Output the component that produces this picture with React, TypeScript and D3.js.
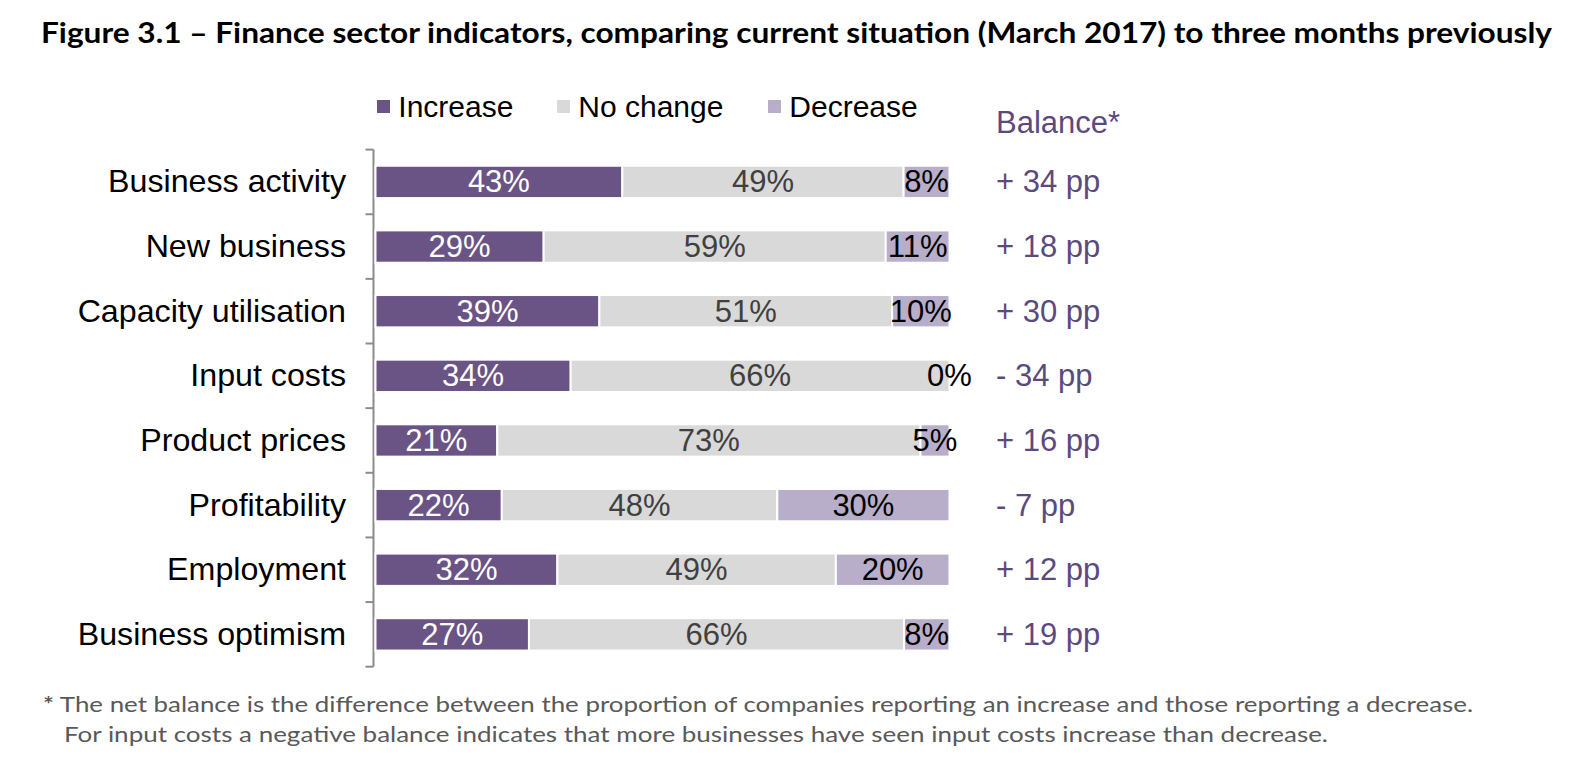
import React from "react";
import * as d3 from "d3";

const categories = [
  "Business activity",
  "New business",
  "Capacity utilisation",
  "Input costs",
  "Product prices",
  "Profitability",
  "Employment",
  "Business optimism",
];
const increase = [43, 29, 39, 34, 21, 22, 32, 27];
const noChange = [49, 59, 51, 66, 73, 48, 49, 66];
const decrease = [8, 11, 10, 0, 5, 30, 20, 8];
const balances = ["+ 34 pp", "+ 18 pp", "+ 30 pp", "- 34 pp", "+ 16 pp", "- 7 pp", "+ 12 pp", "+ 19 pp"];
const seriesNames = ["Increase", "No change", "Decrease"];
const seriesColors = ["#6a5485", "#d9d9d9", "#b9aeca"];
const labelColors = ["#ffffff", "#404040", "#000000"];

const title = "Figure 3.1 \u2013 Finance sector indicators, comparing current situation (March 2017) to three months previously";
const note1 = " The net balance is the difference between the proportion of companies reporting an increase and those reporting a decrease.";
const note2 = "For input costs a negative balance indicates that more businesses have seen input costs increase than decrease.";

const W = 1596;
const H = 764;
const FONT = "'Liberation Sans', Arial, sans-serif";
const CAL = "Lato, 'Open Sans', sans-serif";

export default function App() {
  const y = d3.scaleBand<string>().domain(categories).range([149.6, 666.7]).paddingInner(0.5).paddingOuter(0.25);
  const x = d3.scaleLinear().domain([0, 100]).range([375.5, 949.5]);
  const step = y.step();
  const axisX = 373.5;
  const tickYs = d3.range(categories.length + 1).map((i) => 149.6 + i * step);

  const rows = categories.map((c, i) => {
    const vals = [increase[i], noChange[i], decrease[i]];
    const total = d3.sum(vals);
    let cum = 0;
    const segs = vals.map((v, k) => {
      const x0 = x((cum / total) * 100);
      cum += v;
      const x1 = x((cum / total) * 100);
      return { v, k, x0, x1 };
    });
    return { c, i, segs };
  });

  const legendX = [377, 557, 768];

  return (
    <svg width={W} height={H} style={{ position: "absolute", left: 0, top: 0, background: "#fff" }}>
      <text x={41} y={42.5} fontFamily={CAL} fontWeight="bold" fontSize={29} fill="#000" textLength={1511} lengthAdjust="spacingAndGlyphs">
        {title}
      </text>

      {seriesNames.map((s, k) => (
        <g key={s}>
          <rect x={legendX[k]} y={100} width={13} height={13} fill={seriesColors[k]} />
          <text x={legendX[k] + 21.3} y={116.5} fontFamily={FONT} fontSize={30} fill="#000">
            {s}
          </text>
        </g>
      ))}
      <text x={996} y={132.5} fontFamily={FONT} fontSize={31} fill="#5c4a7e">
        Balance*
      </text>

      <line x1={axisX} x2={axisX} y1={tickYs[0]} y2={tickYs[tickYs.length - 1]} stroke="#8c8c8c" strokeWidth={2} />
      {tickYs.map((ty, i) => (
        <line key={i} x1={axisX - 8} x2={axisX} y1={ty} y2={ty} stroke="#8c8c8c" strokeWidth={2} />
      ))}

      {rows.map((r) => {
        const by = y(r.c)!;
        const bh = y.bandwidth();
        const cy = by + bh / 2;
        const base = cy + 10.5;
        return (
          <g key={r.c}>
            <text x={346} y={base} textAnchor="end" fontFamily={FONT} fontSize={32.2} fill="#000">
              {r.c}
            </text>
            {r.segs.map((s) => (
              <rect key={s.k} x={s.x0} y={by} width={Math.max(0, s.x1 - s.x0)} height={bh} fill={seriesColors[s.k]} stroke="#ffffff" strokeWidth={s.v > 0 ? 2 : 0} />
            ))}
            {r.segs.map((s) => (
              <text key={"t" + s.k} x={(s.x0 + s.x1) / 2} y={base} textAnchor="middle" fontFamily={FONT} fontSize={31} fill={labelColors[s.k]}>
                {s.v + "%"}
              </text>
            ))}
            <text x={996} y={base} fontFamily={FONT} fontSize={31} fill="#5c4a7e">
              {balances[r.i]}
            </text>
          </g>
        );
      })}

      <text x={43} y={711.5} fontFamily={CAL} fontSize={21.5} fill="#595959" textLength={1430} lengthAdjust="spacingAndGlyphs">
        <tspan fontWeight="bold">*</tspan>
        {note1}
      </text>
      <text x={64} y={741.5} fontFamily={CAL} fontSize={21.5} fill="#595959" textLength={1264} lengthAdjust="spacingAndGlyphs">
        {note2}
      </text>
    </svg>
  );
}
